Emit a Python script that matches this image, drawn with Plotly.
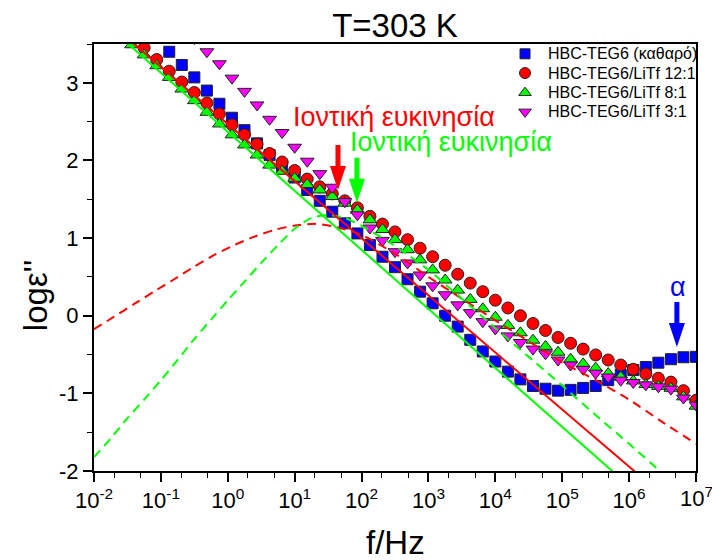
import plotly.graph_objects as go

# Frequency grid (Hz), shared by all measured series
FREQ = [0.0365, 0.0562, 0.0866, 0.1334, 0.2054, 0.3162, 0.4870, 0.7499, 1.155, 1.778,
        2.738, 4.217, 6.494, 10.0, 15.40, 23.71, 36.52, 56.23, 86.60, 133.4,
        205.4, 316.2, 487.0, 749.9, 1155, 1778, 2738, 4217, 6494, 10000,
        15399, 23714, 36517, 56234, 86596, 1.334e5, 2.054e5, 3.162e5, 4.870e5, 7.499e5,
        1.155e6, 1.778e6, 2.738e6, 4.217e6, 6.494e6, 1.0e7]

BLUE = [None, None, None,
        3.40, 3.23, 3.07, 2.90, 2.73, 2.55, 2.39, 2.22, 2.07, 1.93,
        1.78, 1.62, 1.48, 1.34, 1.19, 1.06, 0.91, 0.76, 0.625, 0.47,
        0.31, 0.16, 0.00, -0.14, -0.31, -0.46, -0.59, -0.72, -0.82, -0.905,
        -0.94, -0.965, -0.955, -0.93, -0.905, -0.83, -0.76, -0.70, -0.66, -0.605,
        -0.56, -0.535, -0.53]

RED = [3.59, 3.45, 3.30, 3.15, 3.01, 2.875, 2.74, 2.60, 2.46, 2.33,
       2.21, 2.09, 1.98, 1.87, 1.76, 1.66, 1.57, 1.48, 1.39, 1.28,
       1.18, 1.08, 0.98, 0.87, 0.76, 0.65, 0.535, 0.42, 0.31, 0.20,
       0.10, 0.00, -0.10, -0.19, -0.28, -0.355, -0.43, -0.505, -0.57, -0.635,
       -0.69, -0.75, -0.805, -0.855, -0.965, -1.09]

GREEN = [3.49, 3.36, 3.22, 3.07, 2.92, 2.77, 2.62, 2.47, 2.33, 2.20,
         2.07, 1.94, 1.86, 1.77, 1.69, 1.62, 1.535, 1.45, 1.36, 1.235,
         1.11, 0.98, 0.85, 0.72, 0.59, 0.46, 0.33, 0.21, 0.09, -0.02,
         -0.125, -0.22, -0.315, -0.395, -0.47, -0.56, -0.62, -0.675, -0.745, -0.79,
         -0.84, -0.885, -0.91, -0.935, -1.045, -1.165]

MAGENTA = [None, None, None, None, None,
           3.57, 3.40, 3.245, 3.06, 2.89, 2.715, 2.53, 2.36, 2.17, 1.99,
           1.83, 1.655, 1.47, 1.30, 1.13, 0.97, 0.825, 0.68, 0.525, 0.385,
           0.27, 0.14, 0.04, -0.076, -0.17, -0.26, -0.345, -0.43, -0.49, -0.57,
           -0.635, -0.69, -0.74, -0.79, -0.83, -0.86, -0.89, -0.915, -0.945, -1.06,
           -1.15]

NAMES = ["HBC-TEG6 (καθαρό)", "HBC-TEG6/LiTf 12:1", "HBC-TEG6/LiTf 8:1", "HBC-TEG6/LiTf 3:1"]

# Fit lines (conductivity contributions, solid)
RED_FIT_F = [0.030, 1.58e6]
RED_FIT_V = [3.59, -2.09]
GREEN_FIT_F = [0.0251, 7.08e5]
GREEN_FIT_V = [3.586, -2.078]

# Relaxation fit curves (dashed)
RED_DASH_F = [0.01, 0.02, 0.04, 0.079, 0.158, 0.316, 0.631, 1.26, 2.51, 5.01,
              10, 20, 39.8, 100, 316, 1000, 3162, 1e4, 3.16e4, 1e5,
              3.16e5, 1e6, 3.16e6, 1e7]
RED_DASH_V = [-0.174, -0.012, 0.152, 0.311, 0.470, 0.633, 0.784, 0.912, 1.019, 1.106,
              1.161, 1.183, 1.148, 1.04, 0.80, 0.50, 0.22, -0.06, -0.33, -0.60,
              -0.83, -1.08, -1.37, -1.65]
GREEN_DASH_F = [0.01, 0.0178, 0.0316, 0.0562, 0.1, 0.178, 0.316, 0.562, 1, 1.78,
                3.16, 5.62, 10, 17.8, 31.6, 56.2, 100, 316, 1000, 3162,
                1e4, 3.16e4, 1e5, 3.16e5, 1e6, 3.16e6]
GREEN_DASH_V = [-1.82, -1.58, -1.32, -1.08, -0.83, -0.57, -0.30, -0.05, 0.20, 0.44,
                0.68, 0.91, 1.12, 1.26, 1.30, 1.26, 1.16, 0.90, 0.59, 0.22,
                -0.16, -0.53, -0.90, -1.28, -1.65, -2.03]

X_TICKS = [0.01, 0.1, 1, 10, 100, 1e3, 1e4, 1e5, 1e6, 1e7]
X_TICKTEXT = ["10<sup>-2</sup>", "10<sup>-1</sup>", "10<sup>0</sup>", "10<sup>1</sup>",
              "10<sup>2</sup>", "10<sup>3</sup>", "10<sup>4</sup>", "10<sup>5</sup>",
              "10<sup>6</sup>", "10<sup>7</sup>"]
Y_TICKS = [-2, -1, 0, 1, 2, 3]
Y_TICKTEXT = ["-2", "-1", "0", "1", "2", "3"]

FONT = "Liberation Sans, Arial, sans-serif"
OUTLINE = dict(color="#222222", width=1)

STYLES = [
    dict(symbol="square", size=11, color="#0000FF", line=OUTLINE),
    dict(symbol="circle", size=12, color="#FF0000", line=OUTLINE),
    dict(symbol="triangle-up", size=12, color="#00FF00", line=OUTLINE),
    dict(symbol="triangle-down", size=12, color="#FF00FF", line=OUTLINE),
]

fig = go.Figure()
for vals, name, st in zip([BLUE, RED, GREEN, MAGENTA], NAMES, STYLES):
    fig.add_trace(go.Scatter(x=FREQ, y=vals, mode="markers", name=name,
                             showlegend=False, marker=st))

fig.add_trace(go.Scatter(x=RED_DASH_F, y=RED_DASH_V, mode="lines", showlegend=False,
                         line=dict(color="#FF0000", width=2, dash="9px,6px", shape="spline", smoothing=0.6)))
fig.add_trace(go.Scatter(x=GREEN_DASH_F, y=GREEN_DASH_V, mode="lines", showlegend=False,
                         line=dict(color="#00FF00", width=2, dash="9px,6px", shape="spline", smoothing=0.6)))
fig.add_trace(go.Scatter(x=RED_FIT_F, y=RED_FIT_V, mode="lines", showlegend=False,
                         line=dict(color="#FF0000", width=2)))
fig.add_trace(go.Scatter(x=GREEN_FIT_F, y=GREEN_FIT_V, mode="lines", showlegend=False,
                         line=dict(color="#00FF00", width=2)))

# Legend (drawn inside the plot area, top right) on an overlay axis in domain units
LEG_X_SYM = 0.716
LEG_X_TXT = 0.750
LEG_ROWS = [0.977, 0.932, 0.886, 0.841]
for name, st, ry in zip(NAMES, STYLES, LEG_ROWS):
    fig.add_trace(go.Scatter(x=[LEG_X_SYM], y=[ry], xaxis="x2", yaxis="y2", mode="markers",
                             showlegend=False, hoverinfo="skip",
                             marker=dict(st, size=st["size"] - 1)))
    fig.add_annotation(x=LEG_X_TXT, y=ry, xref="paper", yref="paper", text=name,
                       showarrow=False, xanchor="left", yanchor="middle",
                       font=dict(family=FONT, size=16, color="black"))

ARROW_PATH = "M 0 0 L -8 24 L -2.5 24 L -2.5 45 L 2.5 45 L 2.5 24 L 8 24 Z"
for (fx, vy, col) in [(44.4, 1.621, "#FF0000"), (85.3, 1.454, "#00FF00"), (5.18e6, -0.402, "#0000FF")]:
    fig.add_shape(type="path", xref="x", yref="y", xsizemode="pixel", ysizemode="pixel",
                  xanchor=fx, yanchor=vy, path=ARROW_PATH,
                  fillcolor=col, line=dict(width=0))

fig.add_annotation(x=0.945, y=2.562, xref="x", yref="y", text="Ιοντική ευκινησία",
                   showarrow=False, xanchor="left", yanchor="middle",
                   font=dict(family=FONT, size=27, color="#FF0000"))
fig.add_annotation(x=1.797, y=2.240, xref="x", yref="y", text="Ιοντική ευκινησία",
                   showarrow=False, xanchor="left", yanchor="middle",
                   font=dict(family=FONT, size=27, color="#00FF00"))
fig.add_annotation(x=6.729, y=0.371, xref="x", yref="y", text="α",
                   showarrow=False, xanchor="center", yanchor="middle",
                   font=dict(family=FONT, size=27, color="#0000FF"))

# Last x tick label at the right edge (drawn as an annotation so it is not hidden at the div edge)
fig.add_annotation(x=7, y=0, xref="x", yref="paper", text=X_TICKTEXT[-1],
                   showarrow=False, xanchor="center", yanchor="top", yshift=-10,
                   font=dict(family=FONT, size=22, color="black"))

fig.add_annotation(x=0.5, y=-0.168, xref="paper", yref="paper", text="f/Hz",
                   showarrow=False, xanchor="center", yanchor="middle",
                   font=dict(family=FONT, size=33, color="black"))
fig.add_annotation(x=-0.096, y=0.41, xref="paper", yref="paper", text="logε''",
                   showarrow=False, xanchor="center", yanchor="middle", textangle=-90,
                   font=dict(family=FONT, size=33, color="black"))

fig.update_layout(
    width=712, height=560,
    margin=dict(l=94, r=16, t=44, b=89),
    paper_bgcolor="white", plot_bgcolor="white",
    font=dict(family=FONT, color="black"),
    title=dict(text="T=303 K", x=0.5, xref="paper", y=0.955, yref="container",
               xanchor="center", yanchor="middle",
               font=dict(family=FONT, size=33, color="black")),
    showlegend=False,
    xaxis2=dict(overlaying="x", range=[0, 1], visible=False, fixedrange=True),
    yaxis2=dict(overlaying="y", range=[0, 1], visible=False, fixedrange=True),
    xaxis=dict(type="log", range=[-2, 7], tickvals=X_TICKS,
               ticktext=X_TICKTEXT[:-1] + [""],
               ticks="outside", ticklen=9, tickwidth=1.5, tickcolor="black",
               showline=True, linecolor="black", linewidth=2, mirror=True,
               showgrid=False, zeroline=False, automargin=False,
               tickfont=dict(family=FONT, size=22, color="black"),
               minor=dict(ticks="outside", ticklen=5, tickwidth=1.2, tickcolor="black",
                          showgrid=False)),
    yaxis=dict(range=[-2, 3.5], tickvals=Y_TICKS, ticktext=Y_TICKTEXT,
               ticks="outside", ticklen=9, tickwidth=1.5, tickcolor="black",
               showline=True, linecolor="black", linewidth=2, mirror=True,
               showgrid=False, zeroline=False, automargin=False,
               tickfont=dict(family=FONT, size=22, color="black"),
               minor=dict(ticks="outside", ticklen=5, tickwidth=1.2, tickcolor="black",
                          dtick=0.5, tick0=0, showgrid=False)),
)

fig.write_html("out.html", config={"displayModeBar": False},
               post_script="document.body.style.margin='0';")
